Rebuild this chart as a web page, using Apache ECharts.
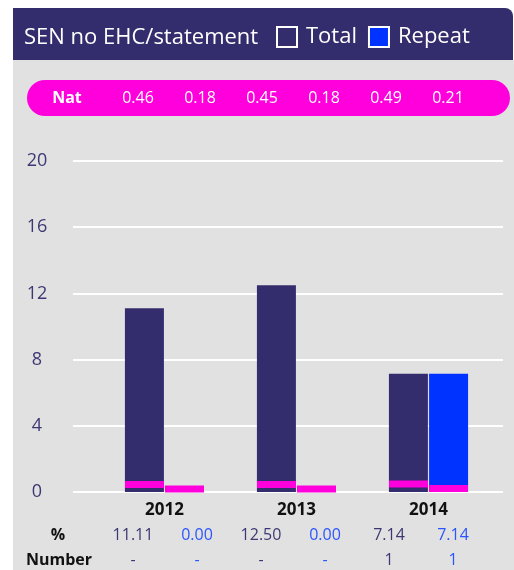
<!DOCTYPE html>
<html>
<head>
<meta charset="utf-8">
<script src="https://cdn.jsdelivr.net/npm/echarts@6/dist/echarts.min.js"></script>
<style>
html, body { margin: 0; padding: 0; background: #fff; }
#container { width: 514px; height: 570px; }
</style>
</head>
<body>
<div id="container"></div>
<script>
var years = ['2012', '2013', '2014'];
var totalPct = [11.11, 12.50, 7.14];
var repeatPct = [0.00, 0.00, 7.14];
var natTotal = [0.46, 0.45, 0.49];
var natRepeat = [0.18, 0.18, 0.21];
var totalNum = ['-', '-', '1'];
var repeatNum = ['-', '-', '1'];
var yMin = 0, yMax = 20, yStep = 4;

var navy = '#332c6d';
var blue = '#0033ff';
var pink = '#ff00dd';
var font = 'Open Sans';

var myChart = echarts.init(document.getElementById('container'));

// nat marker: 7px band centred on the national value, on top of each bar
function natMarker(side) {
    return function (params, api) {
        var p = api.coord([api.value(0), api.value(1)]);
        return {
            type: 'rect',
            shape: { x: p[0] + side * 20 - 19.5, y: p[1] - 3.5, width: 39, height: 7 },
            style: { fill: pink }
        };
    };
}

var graphics = [
    { type: 'rect', z: -10, shape: { x: 13, y: 60, width: 501, height: 510 }, style: { fill: '#e1e1e1' } },
    { type: 'rect', z: -10, shape: { x: 13, y: 8, width: 500, height: 52, r: [0, 8, 0, 0] }, style: { fill: navy } },
    { type: 'rect', shape: { x: 27, y: 80, width: 483, height: 36, r: 18 }, style: { fill: pink } },
    { type: 'text', x: 67, y: 98, style: { text: 'Nat', fill: '#fff', font: 'bold 16px ' + font, textAlign: 'center', textVerticalAlign: 'middle' } },
    { type: 'text', x: 58, y: 535, style: { text: '%', fill: '#111', font: 'bold 16px ' + font, textAlign: 'center', textVerticalAlign: 'middle' } },
    { type: 'text', x: 59, y: 560, style: { text: 'Number', fill: '#111', font: 'bold 16px ' + font, textAlign: 'center', textVerticalAlign: 'middle' } }
];

var natAll = [], pctAll = [], numAll = [];
for (var i = 0; i < years.length; i++) {
    natAll.push(natTotal[i], natRepeat[i]);
    pctAll.push([totalPct[i], navy], [repeatPct[i], blue]);
    numAll.push([totalNum[i], navy], [repeatNum[i], blue]);
}
natAll.forEach(function (v, j) {
    graphics.push({ type: 'text', x: 138 + j * 62, y: 98, style: { text: v.toFixed(2), fill: '#fff', font: '16px ' + font, textAlign: 'center', textVerticalAlign: 'middle' } });
});
pctAll.forEach(function (d, j) {
    graphics.push({ type: 'text', x: 133 + j * 64, y: 535, style: { text: d[0].toFixed(2), fill: d[1] === navy ? '#3d3873' : '#2a55ff', font: '16px ' + font, textAlign: 'center', textVerticalAlign: 'middle' } });
});
numAll.forEach(function (d, j) {
    graphics.push({ type: 'text', x: 133 + j * 64, y: 560, style: { text: d[0], fill: d[1] === navy ? '#3d3873' : '#2a55ff', font: '16px ' + font, textAlign: 'center', textVerticalAlign: 'middle' } });
});

var option = {
    animation: false,
    textStyle: { fontFamily: font },
    title: {
        text: 'SEN no EHC/statement',
        left: 24,
        top: 27,
        padding: 0,
        textStyle: { color: '#fff', fontSize: 22, fontWeight: 'normal', fontFamily: font }
    },
    legend: {
        data: ['Total', 'Repeat'],
        left: 276,
        top: 26,
        padding: 0,
        icon: 'rect',
        itemWidth: 20,
        itemHeight: 20,
        itemGap: 11,
        itemStyle: { borderColor: '#fff', borderWidth: 2 },
        textStyle: { color: '#fff', fontSize: 22, fontFamily: font, padding: [2, 0, 0, 4] }
    },
    graphic: graphics,
    grid: [
        { left: 73, right: 11, top: 161, bottom: 78 },
        { left: 98.5, right: 19.5, top: 161, bottom: 78 }
    ],
    xAxis: [
        { gridIndex: 0, type: 'category', data: years, show: false },
        {
            gridIndex: 1, type: 'category', data: years,
            axisLine: { show: false }, axisTick: { show: false },
            axisLabel: { margin: 10, color: '#111', fontSize: 17, fontWeight: 'bold', fontFamily: font }
        }
    ],
    yAxis: [
        {
            gridIndex: 0, type: 'value', min: yMin, max: yMax, interval: yStep,
            axisLine: { show: false }, axisTick: { show: false },
            splitLine: { lineStyle: { color: '#fff', width: 2 } },
            axisLabel: { align: 'center', margin: 36, color: '#3d3873', fontSize: 18, fontFamily: font }
        },
        { gridIndex: 1, type: 'value', min: yMin, max: yMax, interval: yStep, show: false, splitLine: { show: false } }
    ],
    series: [
        { name: 'Total', type: 'bar', xAxisIndex: 1, yAxisIndex: 1, data: totalPct, barWidth: 39, barGap: '3%', itemStyle: { color: navy } },
        { name: 'Repeat', type: 'bar', xAxisIndex: 1, yAxisIndex: 1, data: repeatPct, barWidth: 39, barGap: '3%', itemStyle: { color: blue } },
        { type: 'custom', xAxisIndex: 1, yAxisIndex: 1, data: natTotal.map(function (v, i) { return [i, v]; }), renderItem: natMarker(-1), z: 5 },
        { type: 'custom', xAxisIndex: 1, yAxisIndex: 1, data: natRepeat.map(function (v, i) { return [i, v]; }), renderItem: natMarker(1), z: 5 }
    ]
};

myChart.setOption(option, true);
window.onresize = function () {
    myChart.resize();
};
</script>
</body>
</html>
